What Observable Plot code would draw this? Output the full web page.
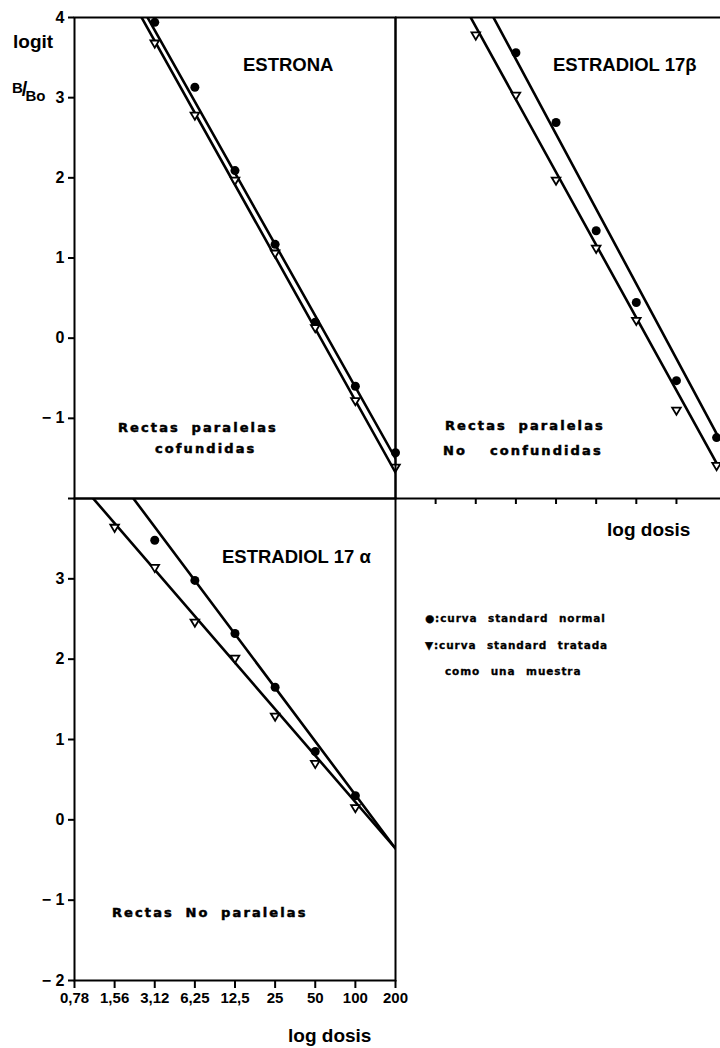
<!DOCTYPE html>
<html><head><meta charset="utf-8">
<script src="https://cdn.jsdelivr.net/npm/d3@7"></script>
<script src="https://cdn.jsdelivr.net/npm/@observablehq/plot@0.6"></script>
<style>
html,body{margin:0;padding:0;background:#fff;overflow:hidden}
#wrap{position:relative;width:720px;height:1048px;font-family:"Liberation Sans",Arial,sans-serif;font-weight:bold;color:#000}
#wrap svg{position:absolute;left:0;top:0}
.t{position:absolute;white-space:nowrap;line-height:1}
.title{font-size:18.5px}
.axl{font-size:19px}
.note{font-family:"DejaVu Sans",sans-serif;font-size:13px;letter-spacing:2.1px;word-spacing:5px;-webkit-text-stroke:0.5px #000}
.leg{font-family:"DejaVu Sans",sans-serif;font-size:10.5px;letter-spacing:0.9px;word-spacing:6px;-webkit-text-stroke:0.3px #000}
</style></head>
<body><div id="wrap"></div>
<script>
// ---- axis ticks ----
const doseTicks = [0.78125, 1.5625, 3.125, 6.25, 12.5, 25, 50, 100, 200];
const doseLabels = ["0,78","1,56","3,12","6,25","12,5","25","50","100","200"];
const topLogitTicks = [4, 3, 2, 1, 0, -1];
const bottomLogitTicks = [4, 3, 2, 1, 0, -1, -2];
const fitDose = [0.78125, 200];   // fitted straight lines: logit at the two ends of the dose axis

// ---- ESTRONA ----
const estronaDose = [3.125, 6.25, 12.5, 25, 50, 100, 200];
const estronaNormal = [3.94, 3.13, 2.09, 1.17, 0.20, -0.60, -1.43];
const estronaTratada = [3.68, 2.78, 1.97, 1.06, 0.13, -0.78, -1.61];
const estronaFitNormal = [5.62, -1.50];
const estronaFitTratada = [5.50, -1.675];

// ---- ESTRADIOL 17 beta ----
const betaDoseNormal = [6.25, 12.5, 25, 50, 100, 200];
const betaNormal = [3.56, 2.69, 1.34, 0.445, -0.53, -1.24];
const betaDoseTratada = [3.125, 6.25, 12.5, 25, 50, 100, 200];
const betaTratada = [3.78, 3.03, 1.97, 1.12, 0.22, -0.90, -1.59];
const betaFitNormal = [6.28, -1.19];
const betaFitTratada = [5.70, -1.56];

// ---- ESTRADIOL 17 alpha ----
const alphaDoseNormal = [3.125, 6.25, 12.5, 25, 50, 100];
const alphaNormal = [3.48, 2.98, 2.32, 1.65, 0.85, 0.30];
const alphaDoseTratada = [1.5625, 3.125, 6.25, 12.5, 25, 50, 100];
const alphaTratada = [3.64, 3.14, 2.46, 2.01, 1.29, 0.70, 0.15];
const alphaFitNormal = [4.98, -0.357];
const alphaFitTratada = [4.27, -0.357];

const rows = (xs, ys) => xs.map((d, i) => ({dose: d, logit: ys[i]}));

const triangleDown = {
  draw(ctx, size) {
    const s = Math.sqrt(size / Math.PI);
    ctx.moveTo(-s, -s * 0.62);
    ctx.lineTo(s, -s * 0.62);
    ctx.lineTo(0, s * 1.05);
    ctx.closePath();
  }
};

const fmtLogit = d => d < 0 ? "\u2212 " + Math.abs(d) : String(d);

function seriesMarks(dN, vN, dT, vT, fitN, fitT) {
  return [
    Plot.line(rows(fitDose, fitN), {x: "dose", y: "logit", stroke: "black", strokeWidth: 2.6, clip: true}),
    Plot.line(rows(fitDose, fitT), {x: "dose", y: "logit", stroke: "black", strokeWidth: 2.6, clip: true}),
    Plot.dot(rows(dN, vN), {x: "dose", y: "logit", r: 4.5, fill: "black", stroke: "none"}),
    Plot.dot(rows(dT, vT), {x: "dose", y: "logit", r: 4.3, symbol: triangleDown, fill: "white", stroke: "black", strokeWidth: 1.8})
  ];
}

function panel({left, right, top, bottom, xMax = 200, marks}) {
  return Plot.plot({
    width: 720, height: 1048,
    marginLeft: left, marginRight: 720 - right, marginTop: top, marginBottom: 1048 - bottom,
    x: {type: "log", base: 2, domain: [doseTicks[0], xMax], axis: null, label: null},
    y: {domain: [-2, 4], axis: null, label: null},
    style: {background: "transparent", overflow: "visible", fontFamily: "'Liberation Sans', Arial, sans-serif", fontWeight: "bold", color: "black"},
    marks
  });
}

const wrap = document.getElementById("wrap");

// top-left: ESTRONA
wrap.appendChild(panel({
  left: 74, right: 395, top: 17, bottom: 498,
  marks: [
    Plot.frame({stroke: "black", strokeWidth: 2}),
    ...seriesMarks(estronaDose, estronaNormal, estronaDose, estronaTratada, estronaFitNormal, estronaFitTratada),
    Plot.axisY({ticks: topLogitTicks, tickFormat: fmtLogit, tickSize: 6, tickPadding: 4, fontSize: 16, strokeWidth: 2, label: null})
  ]
}));

// top-right: ESTRADIOL 17 beta (panel continues past the right edge of the picture)
wrap.appendChild(panel({
  left: 395, right: 720, top: 17, bottom: 498, xMax: 214,
  marks: [
    Plot.ruleY([4, -2], {stroke: "black", strokeWidth: 2}),
    Plot.ruleX([doseTicks[0]], {stroke: "black", strokeWidth: 2}),
    ...seriesMarks(betaDoseNormal, betaNormal, betaDoseTratada, betaTratada, betaFitNormal, betaFitTratada),
    Plot.axisX({ticks: doseTicks.slice(1, 8), tickFormat: () => "", tickSize: 6, strokeWidth: 2, label: null})
  ]
}));

// bottom-left: ESTRADIOL 17 alpha
wrap.appendChild(panel({
  left: 74, right: 395, top: 498, bottom: 980,
  marks: [
    Plot.frame({stroke: "black", strokeWidth: 2}),
    ...seriesMarks(alphaDoseNormal, alphaNormal, alphaDoseTratada, alphaTratada, alphaFitNormal, alphaFitTratada),
    Plot.axisY({ticks: bottomLogitTicks, tickFormat: d => d === 4 ? "" : fmtLogit(d), tickSize: 6, tickPadding: 4, fontSize: 16, strokeWidth: 2, label: null}),
    Plot.axisX({ticks: doseTicks, tickFormat: d => doseLabels[doseTicks.indexOf(d)], tickSize: 8, tickPadding: 4, fontSize: 15, strokeWidth: 2, label: null})
  ]
}));

// text overlays
const texts = [
  ["t axl", 13, 32, "logit"],
  ["t title", 243, 56, "ESTRONA"],
  ["t title", 553, 56, "ESTRADIOL 17\u03B2"],
  ["t title", 222, 548, "ESTRADIOL 17 \u03B1"],
  ["t note", 118, 421, "Rectas paralelas"],
  ["t note", 155, 442, "cofundidas"],
  ["t note", 445, 419, "Rectas paralelas"],
  ["t note", 443, 444, "No"],
  ["t note", 490, 444, "confundidas"],
  ["t note", 112, 906, "Rectas No paralelas"],
  ["t axl", 607, 520, "log dosis"],
  ["t axl", 288, 1026, "log dosis"],
  ["t leg", 425, 613, "\u25CF:curva standard  normal"],
  ["t leg", 425, 640, "\u25BC:curva standard  tratada"],
  ["t leg", 445, 666, "como una  muestra"]
];
for (const [cls, x, y, s] of texts) {
  const d = document.createElement("div");
  d.className = cls;
  d.style.left = x + "px";
  d.style.top = y + "px";
  d.textContent = s;
  wrap.appendChild(d);
}
// B/Bo label
const bb = document.createElement("div");
bb.className = "t";
bb.style.left = "12px"; bb.style.top = "76px"; bb.style.fontSize = "15px";
bb.innerHTML = 'B<span style="font-size:20px;position:relative;top:3px;margin-left:-1px">/</span><span style="position:relative;top:8px;margin-left:-2px">Bo</span>';
wrap.appendChild(bb);
</script>
</body></html>
